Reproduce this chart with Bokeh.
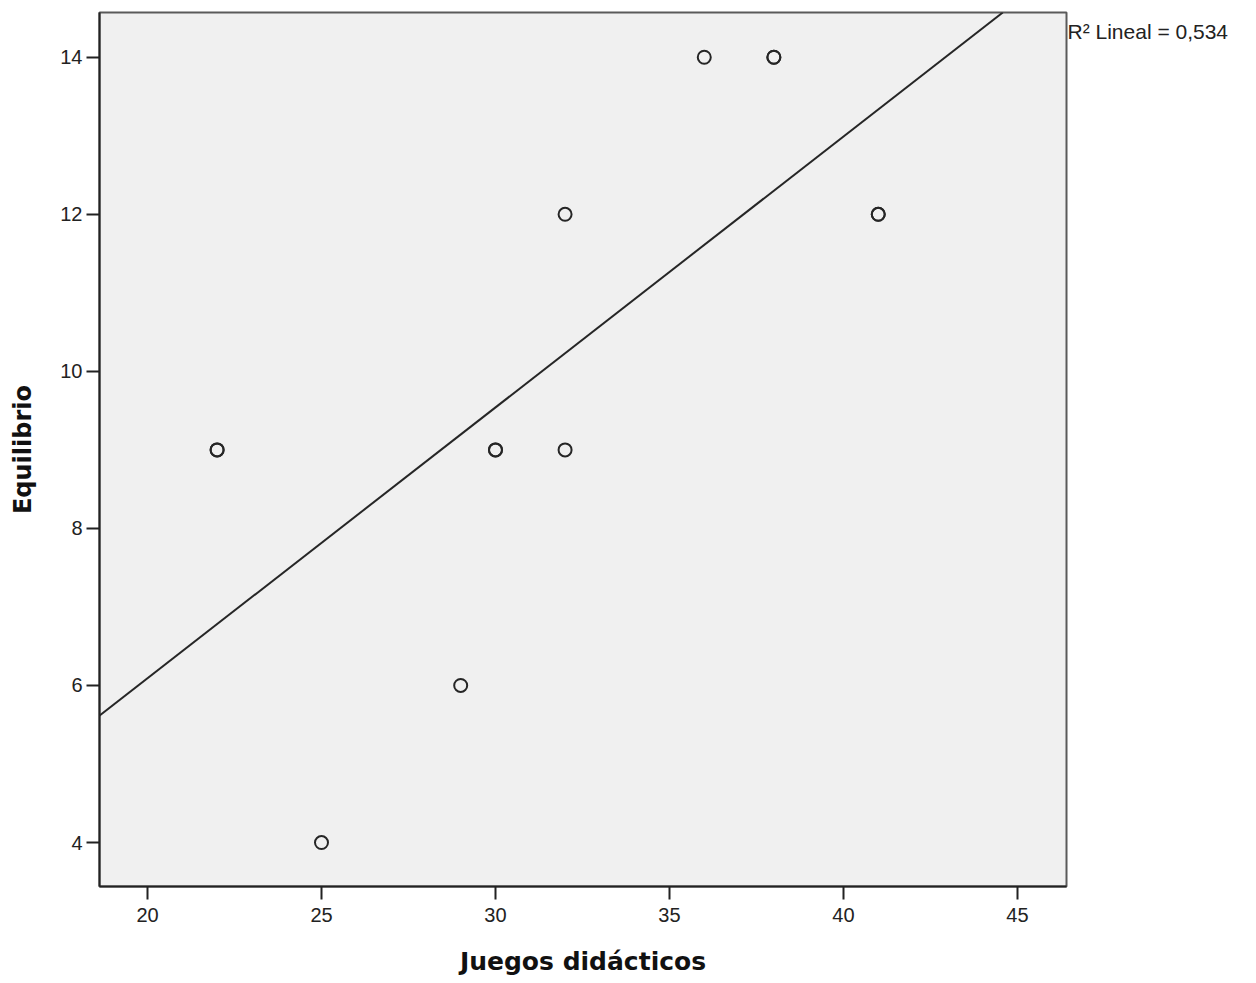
import numpy as np
from bokeh.plotting import figure
from bokeh.models import Range1d, Slope, FixedTicker, LinearAxis
from bokeh.embed import file_html
from bokeh.resources import INLINE

# Data (duplicates drawn on top of each other, as in the reference)
juegos = [22, 22, 25, 29, 30, 30, 32, 32, 36, 38, 38, 41, 41]
equilibrio = [9, 9, 4, 6, 9, 9, 12, 9, 14, 14, 14, 12, 12]
x_ticks = [20, 25, 30, 35, 40, 45]
y_ticks = [4, 6, 8, 10, 12, 14]
r2_text = "R\u00b2 Lineal = 0,534"
r2_pos = 14.33   # vertical position of the R² note (axis units)

TICK_FONT = "Liberation Sans"
TITLE_FONT = "DejaVu Sans"

p = figure(width=1250, height=980, output_backend="svg", toolbar_location=None,
           x_range=Range1d(18.62, 46.41), y_range=Range1d(3.44, 14.57),
           min_border_left=99, min_border_right=184, min_border_top=12,
           min_border_bottom=94)

p.background_fill_color = "#f0f0f0"
p.border_fill_color = "white"
p.outline_line_color = "#5a5a5a"
p.outline_line_width = 2
p.xgrid.visible = False
p.ygrid.visible = False

for ax in (p.xaxis[0], p.yaxis[0]):
    ax.axis_line_color = "#222222"
    ax.axis_line_width = 2
    ax.major_tick_line_color = "#222222"
    ax.major_tick_line_width = 2
    ax.major_tick_out = 13
    ax.major_tick_in = 0
    ax.minor_tick_out = 0
    ax.minor_tick_in = 0
    ax.major_label_text_font = TICK_FONT
    ax.major_label_text_font_size = "20px"
    ax.major_label_text_color = "#222222"
    ax.axis_label_text_font = TITLE_FONT
    ax.axis_label_text_font_style = "bold"
    ax.axis_label_text_font_size = "24px"
    ax.axis_label_text_color = "#111111"

p.xaxis.ticker = FixedTicker(ticks=x_ticks)
p.yaxis.ticker = FixedTicker(ticks=y_ticks)
p.xaxis.axis_label = "Juegos didácticos"
p.yaxis.axis_label = "Equilibrio"
p.xaxis.axis_label_text_font_size = "25px"
p.xaxis.major_label_standoff = 8
p.yaxis.major_label_standoff = 4
p.xaxis.axis_label_standoff = 22
p.yaxis.axis_label_standoff = 20

# regression line from the data
slope, intercept = np.polyfit(np.array(juegos, float), np.array(equilibrio, float), 1)
p.add_layout(Slope(gradient=slope, y_intercept=intercept,
                   line_color="#262626", line_width=2))

p.scatter(juegos, equilibrio, marker="circle", size=13, fill_color=None,
          line_color="#262626", line_width=2)

# R² note at the right of the frame (drawn as a right-side axis label)
note = LinearAxis(ticker=FixedTicker(ticks=[r2_pos]),
                  major_label_overrides={r2_pos: r2_text},
                  axis_line_color=None, major_tick_line_color=None,
                  minor_tick_line_color=None, major_tick_out=0, major_tick_in=0,
                  major_label_standoff=1,
                  major_label_text_font=TICK_FONT,
                  major_label_text_font_size="21px",
                  major_label_text_color="#222222")
p.add_layout(note, "right")

open("out.html", "w").write(file_html(p, INLINE))
